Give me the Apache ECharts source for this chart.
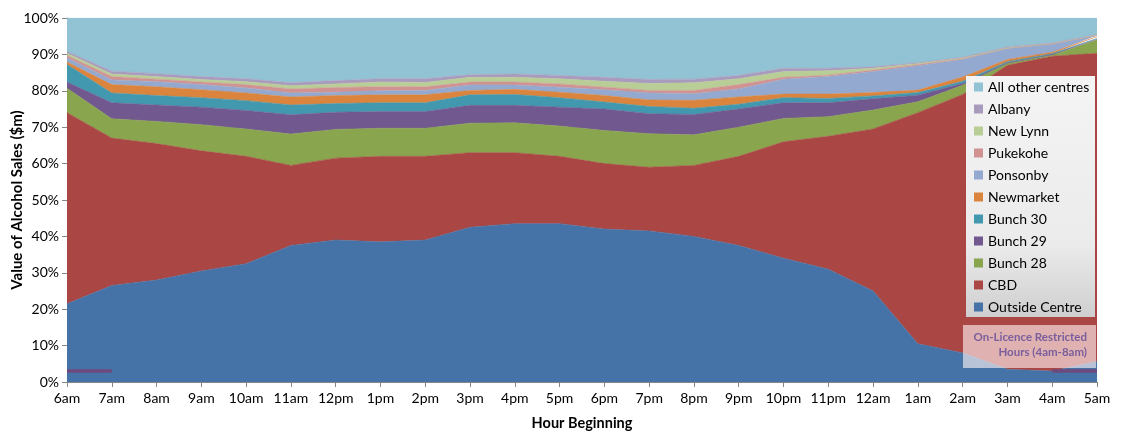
<!DOCTYPE html>
<html>
<head>
<meta charset="utf-8">
<style>
  html, body { margin: 0; padding: 0; background: #fff; }
  #chart { width: 1126px; height: 432px; }
</style>
<script src="https://cdn.jsdelivr.net/npm/echarts@6/dist/echarts.min.js"></script>
</head>
<body>
<div id="chart"></div>
<script>
// Hour of day (hour beginning)
const hours = ['6am','7am','8am','9am','10am','11am','12pm','1pm','2pm','3pm','4pm','5pm',
               '6pm','7pm','8pm','9pm','10pm','11pm','12am','1am','2am','3am','4am','5am'];

// Share of alcohol sales value by centre, per hour (percent)
const outsideCentre = [21.5,26.5,28,30.5,32.5,37.5,39,38.5,39,42.5,43.5,43.5,42,41.5,40,37.5,34,31,25,10.5,8,3.5,3,5.6];
const cbd           = [52.5,40.5,37.5,33,29.5,22,22.5,23.5,23,20.5,19.5,18.5,18,17.5,19.5,24.5,32,36.5,44.5,63.5,71,83.5,86.5,84.7];
const bunch28       = [6.7,5.3,6.1,7.2,7.5,8.6,7.9,7.7,7.7,8.1,8.2,8.3,9.1,9.2,8.4,8,6.4,5.4,5.2,3,2.5,0.5,0.3,3.7];
const bunch29       = [1.7,4.4,4.5,4.8,5.1,5.3,4.7,4.6,4.6,4.9,4.8,5.2,5.9,5.5,5.6,5,4.3,3.8,3.1,1.8,0.5,0.2,0.2,0.2];
const bunch30       = [4.8,2.7,2.6,2.6,2.7,2.7,2.4,2.4,2.4,2.9,3,2.6,1.9,2,1.7,1.3,1.4,1.2,0.8,0.7,0.6,0.3,0.2,0.2];
const newmarket     = [0.7,2.3,2.4,2.2,2.1,2.2,2.2,2.2,2.2,1.2,1.4,1.5,1.8,1.8,2.2,2,1,1.2,0.9,0.7,1.2,0.6,0.4,0.5];
const ponsonby      = [1.2,1.3,1.4,1.4,1.4,1.1,0.9,1.1,1.2,1.5,1.2,1.4,1.6,1.9,1.8,2.2,4.1,4.8,5.8,6.7,4.8,3,2.2,0.3];
const pukekohe      = [0.6,0.9,0.7,0.7,0.9,1.1,1.3,1.1,1,0.8,0.8,0.9,0.7,0.7,0.9,1.2,0.5,0.4,0.4,0.3,0.2,0.1,0.1,0.05];
const newLynn       = [0.6,0.7,0.7,0.7,0.8,0.9,1,1.3,1.2,1.3,1.3,1.4,1.6,1.9,2.1,1.6,1.6,1.2,0.5,0.3,0.2,0.1,0.1,0.05];
const albany        = [0.5,0.8,0.8,0.8,0.8,0.8,0.9,0.9,1,0.7,0.9,0.9,1.1,1.1,1,0.9,0.9,0.7,0.4,0.2,0.2,0.2,0.1,0.1];
const allOther      = [9.2,14.6,15.3,16.1,16.7,17.8,17.2,16.7,16.7,15.6,15.4,15.8,16.3,16.9,16.8,15.8,13.8,13.8,13.4,12.3,10.8,8,6.9,4.6];

// Marker for the on-licence restricted hours (4am-8am)
const restrictedHours = [3,3,null,null,null,null,null,null,null,null,null,null,
                         null,null,null,null,null,null,null,null,null,null,3,3];

const yTicks = [0,10,20,30,40,50,60,70,80,90,100];

// Stack order, bottom to top
const centres = [
  { name: 'Outside Centre',    data: outsideCentre, color: '#4572A7' },
  { name: 'CBD',               data: cbd,           color: '#AA4643' },
  { name: 'Bunch 28',          data: bunch28,       color: '#89A54E' },
  { name: 'Bunch 29',          data: bunch29,       color: '#71588F' },
  { name: 'Bunch 30',          data: bunch30,       color: '#4198AF' },
  { name: 'Newmarket',         data: newmarket,     color: '#DB843D' },
  { name: 'Ponsonby',          data: ponsonby,      color: '#93A9CF' },
  { name: 'Pukekohe',          data: pukekohe,      color: '#D19392' },
  { name: 'New Lynn',          data: newLynn,       color: '#B9CD96' },
  { name: 'Albany',            data: albany,        color: '#A99BBD' },
  { name: 'All other centres', data: allOther,      color: '#92C3D4' }
];

// 100% stacking: each hour's shares are scaled to sum to 100
const totals = hours.map((_, i) => centres.reduce((s, c) => s + c.data[i], 0));

const FONT = 'Lato, "Open Sans", sans-serif';

const series = centres.map(c => ({
  name: c.name,
  type: 'line',
  stack: 'share',
  data: c.data.map((v, i) => v / totals[i] * 100),
  showSymbol: false,
  symbol: 'none',
  lineStyle: { width: 0.6, color: c.color },
  itemStyle: { color: c.color },
  areaStyle: { color: c.color, opacity: 1 },
  emphasis: { disabled: true },
  z: 2
}));

series.push({
  name: 'Restricted hours',
  type: 'line',
  data: restrictedHours,
  showSymbol: false,
  symbol: 'none',
  connectNulls: false,
  lineStyle: { width: 3.5, color: '#6D4A7C' },
  itemStyle: { color: '#6D4A7C' },
  emphasis: { disabled: true },
  z: 5
});

const chart = echarts.init(document.getElementById('chart'), null, { renderer: 'canvas' });

chart.setOption({
  animation: false,
  backgroundColor: '#ffffff',
  textStyle: { fontFamily: FONT },
  grid: { left: 67, right: 29, top: 18, bottom: 50, containLabel: false, outerBoundsMode: 'none' },
  xAxis: {
    type: 'category',
    data: hours,
    boundaryGap: false,
    name: 'Hour Beginning',
    nameLocation: 'middle',
    nameGap: 34,
    nameMoveOverlap: false,
    nameTextStyle: { fontFamily: FONT, fontSize: 14.5, fontWeight: 'bold', color: '#000' },
    axisLine: { lineStyle: { color: '#868686', width: 1 } },
    axisTick: { show: true, alignWithLabel: true, length: 5, lineStyle: { color: '#868686' } },
    axisLabel: { fontFamily: FONT, fontSize: 14, color: '#000', margin: 9, interval: 0 },
    splitLine: { show: false }
  },
  yAxis: {
    type: 'value',
    min: yTicks[0],
    max: yTicks[yTicks.length - 1],
    interval: 10,
    name: 'Value of Alcohol Sales ($m)',
    nameLocation: 'middle',
    nameGap: 42,
    nameMoveOverlap: false,
    nameTextStyle: { fontFamily: FONT, fontSize: 15, fontWeight: 'bold', color: '#000' },
    axisLine: { show: true, lineStyle: { color: '#868686', width: 1 } },
    axisTick: { show: true, length: 5, lineStyle: { color: '#868686' } },
    axisLabel: { fontFamily: FONT, fontSize: 14, color: '#000', margin: 8, formatter: '{value}%' },
    splitLine: { show: true, lineStyle: { color: '#B0B0B0', width: 1 } }
  },
  legend: {
    orient: 'vertical',
    left: 974,
    top: 80,
    padding: 0,
    itemWidth: 9,
    itemHeight: 9,
    itemGap: 8,
    icon: 'rect',
    selectedMode: false,
    data: centres.slice().reverse().map(c => c.name),
    textStyle: { fontFamily: FONT, fontSize: 14, color: '#000', lineHeight: 14 },
    z: 6
  },
  graphic: [
    {
      type: 'rect',
      z: 4,
      shape: { x: 966, y: 76, width: 129, height: 241 },
      style: {
        fill: new echarts.graphic.LinearGradient(0, 0, 0, 1, [
          { offset: 0, color: '#F4F4F4' },
          { offset: 0.7, color: '#EBEBEB' },
          { offset: 1, color: '#CFCFCF' }
        ]),
        stroke: null
      }
    },
    {
      type: 'rect',
      z: 4,
      shape: { x: 963, y: 325, width: 133, height: 43 },
      style: { fill: 'rgba(255,246,246,0.62)', stroke: null }
    },
    {
      type: 'text',
      z: 6,
      style: {
        x: 1087, y: 330,
        text: 'On-Licence Restricted\nHours (4am-8am)',
        align: 'right',
        verticalAlign: 'top',
        lineHeight: 15,
        fontFamily: FONT,
        fontSize: 11.5,
        fontWeight: 'bold',
        fill: '#7A5E9C'
      }
    }
  ],
  series: series
});
</script>
</body>
</html>
